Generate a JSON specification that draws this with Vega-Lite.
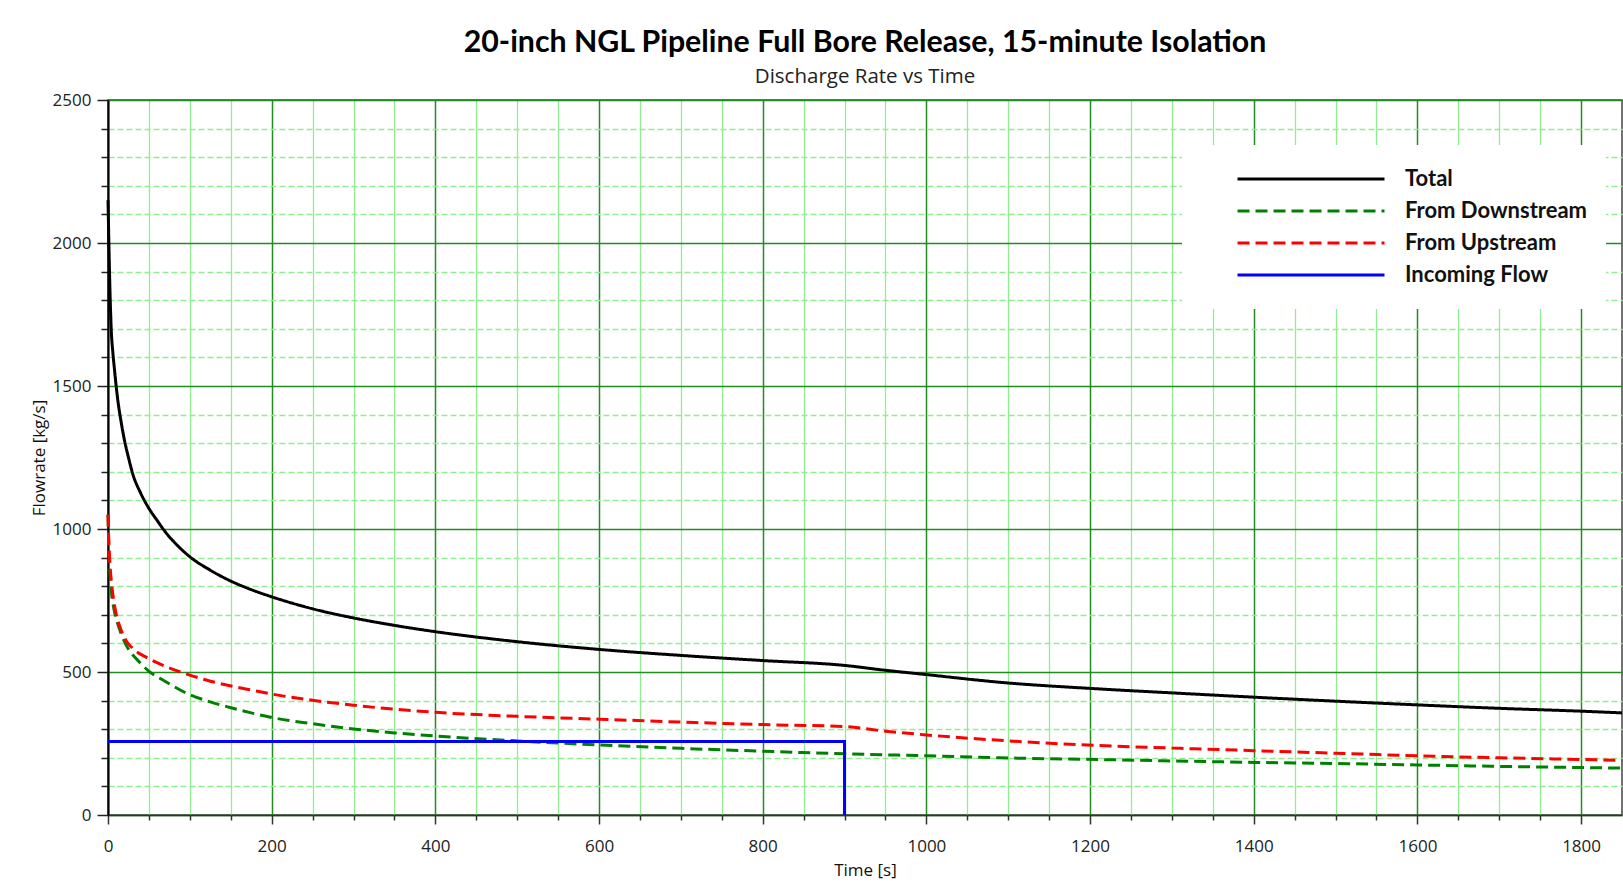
{
  "$schema": "https://vega.github.io/schema/vega-lite/v6.json",
  "autosize": {"type": "none"},
  "width": 1514,
  "height": 715,
  "padding": {"left": 108, "top": 100, "right": 1, "bottom": 81},
  "background": "white",
  "config": {
    "view": {"stroke": "#444444", "strokeWidth": 1.5},
    "font": "Open Sans",
    "legend": {
      "orient": "none",
      "legendX": 1074,
      "legendY": 45,
      "fillColor": "white",
      "padding": 18,
      "symbolType": "stroke",
      "symbolSize": 21609,
      "symbolStrokeWidth": 3,
      "symbolOffset": 36,
      "labelOffset": 19,
      "clipHeight": 32,
      "rowPadding": 0,
      "labelFont": "Lato",
      "labelFontSize": 22,
      "labelFontWeight": "bold",
      "labelColor": "#111111",
      "labelLimit": 400
    }
  },
  "title": {
    "text": "20-inch NGL Pipeline Full Bore Release, 15-minute Isolation",
    "subtitle": "Discharge Rate vs Time",
    "anchor": "middle",
    "font": "Lato",
    "fontSize": 30.3,
    "fontWeight": "bold",
    "color": "#000000",
    "subtitleFont": "Open Sans",
    "subtitleFontSize": 20.5,
    "subtitleColor": "#222222",
    "subtitlePadding": 8,
    "offset": 4
  },
  "datasets": {
    "curves": [
      {"series": "Total", "time": 0, "flow": 2150},
      {"series": "Total", "time": 1, "flow": 2010},
      {"series": "Total", "time": 2, "flow": 1880},
      {"series": "Total", "time": 4, "flow": 1695},
      {"series": "Total", "time": 6, "flow": 1615},
      {"series": "Total", "time": 8, "flow": 1555},
      {"series": "Total", "time": 12, "flow": 1450},
      {"series": "Total", "time": 16, "flow": 1375},
      {"series": "Total", "time": 20, "flow": 1312},
      {"series": "Total", "time": 25, "flow": 1250},
      {"series": "Total", "time": 30, "flow": 1195},
      {"series": "Total", "time": 40, "flow": 1125},
      {"series": "Total", "time": 50, "flow": 1072},
      {"series": "Total", "time": 60, "flow": 1030},
      {"series": "Total", "time": 70, "flow": 990},
      {"series": "Total", "time": 85, "flow": 942},
      {"series": "Total", "time": 100, "flow": 903},
      {"series": "Total", "time": 125, "flow": 856},
      {"series": "Total", "time": 150, "flow": 818},
      {"series": "Total", "time": 175, "flow": 788},
      {"series": "Total", "time": 200, "flow": 763},
      {"series": "Total", "time": 250, "flow": 721},
      {"series": "Total", "time": 300, "flow": 689},
      {"series": "Total", "time": 350, "flow": 663},
      {"series": "Total", "time": 400, "flow": 641},
      {"series": "Total", "time": 500, "flow": 606},
      {"series": "Total", "time": 600, "flow": 579},
      {"series": "Total", "time": 700, "flow": 558},
      {"series": "Total", "time": 800, "flow": 540},
      {"series": "Total", "time": 900, "flow": 523},
      {"series": "Total", "time": 950, "flow": 506},
      {"series": "Total", "time": 1000, "flow": 491},
      {"series": "Total", "time": 1090, "flow": 464},
      {"series": "Total", "time": 1210, "flow": 441},
      {"series": "Total", "time": 1300, "flow": 427},
      {"series": "Total", "time": 1400, "flow": 412},
      {"series": "Total", "time": 1500, "flow": 398},
      {"series": "Total", "time": 1600, "flow": 385},
      {"series": "Total", "time": 1700, "flow": 373},
      {"series": "Total", "time": 1800, "flow": 363},
      {"series": "Total", "time": 1850, "flow": 357},
      {"series": "From Downstream", "time": 0, "flow": 1050},
      {"series": "From Downstream", "time": 1, "flow": 935},
      {"series": "From Downstream", "time": 2, "flow": 865},
      {"series": "From Downstream", "time": 4, "flow": 785},
      {"series": "From Downstream", "time": 8, "flow": 710},
      {"series": "From Downstream", "time": 12, "flow": 668},
      {"series": "From Downstream", "time": 18, "flow": 620},
      {"series": "From Downstream", "time": 26, "flow": 575},
      {"series": "From Downstream", "time": 35, "flow": 545},
      {"series": "From Downstream", "time": 49, "flow": 505},
      {"series": "From Downstream", "time": 70, "flow": 467},
      {"series": "From Downstream", "time": 98, "flow": 423},
      {"series": "From Downstream", "time": 120, "flow": 400},
      {"series": "From Downstream", "time": 149, "flow": 376},
      {"series": "From Downstream", "time": 175, "flow": 357},
      {"series": "From Downstream", "time": 200, "flow": 341},
      {"series": "From Downstream", "time": 250, "flow": 319},
      {"series": "From Downstream", "time": 300, "flow": 301},
      {"series": "From Downstream", "time": 350, "flow": 287},
      {"series": "From Downstream", "time": 400, "flow": 276},
      {"series": "From Downstream", "time": 500, "flow": 259},
      {"series": "From Downstream", "time": 600, "flow": 245},
      {"series": "From Downstream", "time": 700, "flow": 233},
      {"series": "From Downstream", "time": 800, "flow": 223},
      {"series": "From Downstream", "time": 900, "flow": 214},
      {"series": "From Downstream", "time": 1000, "flow": 207},
      {"series": "From Downstream", "time": 1090, "flow": 200},
      {"series": "From Downstream", "time": 1210, "flow": 194},
      {"series": "From Downstream", "time": 1300, "flow": 189},
      {"series": "From Downstream", "time": 1400, "flow": 184},
      {"series": "From Downstream", "time": 1500, "flow": 180},
      {"series": "From Downstream", "time": 1600, "flow": 175},
      {"series": "From Downstream", "time": 1700, "flow": 170},
      {"series": "From Downstream", "time": 1800, "flow": 166},
      {"series": "From Downstream", "time": 1850, "flow": 164},
      {"series": "From Upstream", "time": 0, "flow": 1050},
      {"series": "From Upstream", "time": 1, "flow": 960},
      {"series": "From Upstream", "time": 2, "flow": 895},
      {"series": "From Upstream", "time": 4, "flow": 820},
      {"series": "From Upstream", "time": 6, "flow": 770},
      {"series": "From Upstream", "time": 10, "flow": 703},
      {"series": "From Upstream", "time": 15, "flow": 655},
      {"series": "From Upstream", "time": 22, "flow": 610},
      {"series": "From Upstream", "time": 30, "flow": 583},
      {"series": "From Upstream", "time": 47, "flow": 551},
      {"series": "From Upstream", "time": 70, "flow": 520},
      {"series": "From Upstream", "time": 94, "flow": 495},
      {"series": "From Upstream", "time": 120, "flow": 472},
      {"series": "From Upstream", "time": 149, "flow": 452},
      {"series": "From Upstream", "time": 175, "flow": 437},
      {"series": "From Upstream", "time": 200, "flow": 423},
      {"series": "From Upstream", "time": 250, "flow": 401},
      {"series": "From Upstream", "time": 300, "flow": 384},
      {"series": "From Upstream", "time": 350, "flow": 370},
      {"series": "From Upstream", "time": 400, "flow": 359},
      {"series": "From Upstream", "time": 500, "flow": 345},
      {"series": "From Upstream", "time": 600, "flow": 335},
      {"series": "From Upstream", "time": 700, "flow": 325},
      {"series": "From Upstream", "time": 800, "flow": 316},
      {"series": "From Upstream", "time": 900, "flow": 309},
      {"series": "From Upstream", "time": 950, "flow": 293},
      {"series": "From Upstream", "time": 1000, "flow": 280},
      {"series": "From Upstream", "time": 1090, "flow": 261},
      {"series": "From Upstream", "time": 1210, "flow": 243},
      {"series": "From Upstream", "time": 1300, "flow": 234},
      {"series": "From Upstream", "time": 1400, "flow": 225},
      {"series": "From Upstream", "time": 1500, "flow": 216},
      {"series": "From Upstream", "time": 1600, "flow": 207},
      {"series": "From Upstream", "time": 1700, "flow": 200},
      {"series": "From Upstream", "time": 1800, "flow": 194},
      {"series": "From Upstream", "time": 1850, "flow": 191}
    ],
    "incoming": [
      {"series": "Incoming Flow", "time": 0, "flow": 257},
      {"series": "Incoming Flow", "time": 900, "flow": 257},
      {"series": "Incoming Flow", "time": 900, "flow": 0}
    ]
  },
  "layer": [
    {
      "data": {"name": "curves"},
      "mark": {"type": "line", "interpolate": "monotone", "strokeWidth": 3},
      "encoding": {
        "x": {
          "field": "time",
          "type": "quantitative",
          "scale": {"domain": [0, 1850], "nice": false, "zero": false},
          "axis": {
            "values": [0,50,100,150,200,250,300,350,400,450,500,550,600,650,700,750,800,850,900,950,1000,1050,1100,1150,1200,1250,1300,1350,1400,1450,1500,1550,1600,1650,1700,1750,1800],
            "tickCount": 100,
            "format": "d",
            "labelExpr": "datum.value % 200 === 0 ? datum.label : ''",
            "labelFont": "Open Sans",
            "labelFontSize": 17,
            "labelColor": "#222222",
            "labelPadding": 14,
            "labelFlush": false,
            "labelOverlap": false,
            "domainColor": "#333333",
            "domainWidth": 1.5,
            "tickColor": "#333333",
            "tickWidth": 1.5,
            "tickSize": {"condition": {"test": "datum.value % 200 === 0", "value": 9}, "value": 5},
            "grid": true,
            "gridColor": {"condition": {"test": "datum.value % 200 === 0", "value": "#228B22"}, "value": "#90EE90"},
            "gridWidth": {"condition": {"test": "datum.value % 200 === 0", "value": 1.5}, "value": 1.3},
            "title": "Time [s]",
            "titleFont": "Open Sans",
            "titleFontSize": 17,
            "titleFontWeight": "normal",
            "titleColor": "#111111",
            "titlePadding": 8
          }
        },
        "y": {
          "field": "flow",
          "type": "quantitative",
          "scale": {"domain": [0, 2500], "nice": false},
          "axis": {
            "values": [0,100,200,300,400,500,600,700,800,900,1000,1100,1200,1300,1400,1500,1600,1700,1800,1900,2000,2100,2200,2300,2400,2500],
            "tickCount": 100,
            "format": "d",
            "labelExpr": "datum.value % 500 === 0 ? datum.label : ''",
            "labelFont": "Open Sans",
            "labelFontSize": 17,
            "labelColor": "#222222",
            "labelPadding": 6,
            "labelFlush": false,
            "labelOverlap": false,
            "domainColor": "#000000",
            "domainWidth": 2,
            "tickColor": "#222222",
            "tickWidth": 1.5,
            "tickSize": {"condition": {"test": "datum.value % 500 === 0", "value": 11}, "value": 7},
            "grid": true,
            "gridColor": {"condition": {"test": "datum.value % 500 === 0", "value": "#228B22"}, "value": "#90EE90"},
            "gridDash": {"condition": {"test": "datum.value % 500 === 0", "value": []}, "value": [6, 3]},
            "gridWidth": {"condition": {"test": "datum.value % 500 === 0", "value": 1.5}, "value": 1.3},
            "title": "Flowrate [kg/s]",
            "titleFont": "Open Sans",
            "titleFontSize": 17,
            "titleFontWeight": "normal",
            "titleColor": "#111111",
            "titlePadding": 4
          }
        },
        "color": {
          "field": "series",
          "type": "nominal",
          "scale": {
            "domain": ["Total", "From Downstream", "From Upstream", "Incoming Flow"],
            "range": ["#000000", "#008000", "#FF0000", "#0000FF"]
          },
          "legend": {"title": null}
        },
        "strokeDash": {
          "field": "series",
          "type": "nominal",
          "scale": {
            "domain": ["Total", "From Downstream", "From Upstream", "Incoming Flow"],
            "range": [[1, 0], [12, 6], [12, 6], [1, 0]]
          },
          "legend": {"title": null}
        }
      }
    },
    {
      "data": {"name": "incoming"},
      "mark": {"type": "line", "strokeWidth": 3},
      "encoding": {
        "x": {"field": "time", "type": "quantitative"},
        "y": {"field": "flow", "type": "quantitative"},
        "color": {"field": "series", "type": "nominal"},
        "strokeDash": {"field": "series", "type": "nominal"}
      }
    }
  ]
}
